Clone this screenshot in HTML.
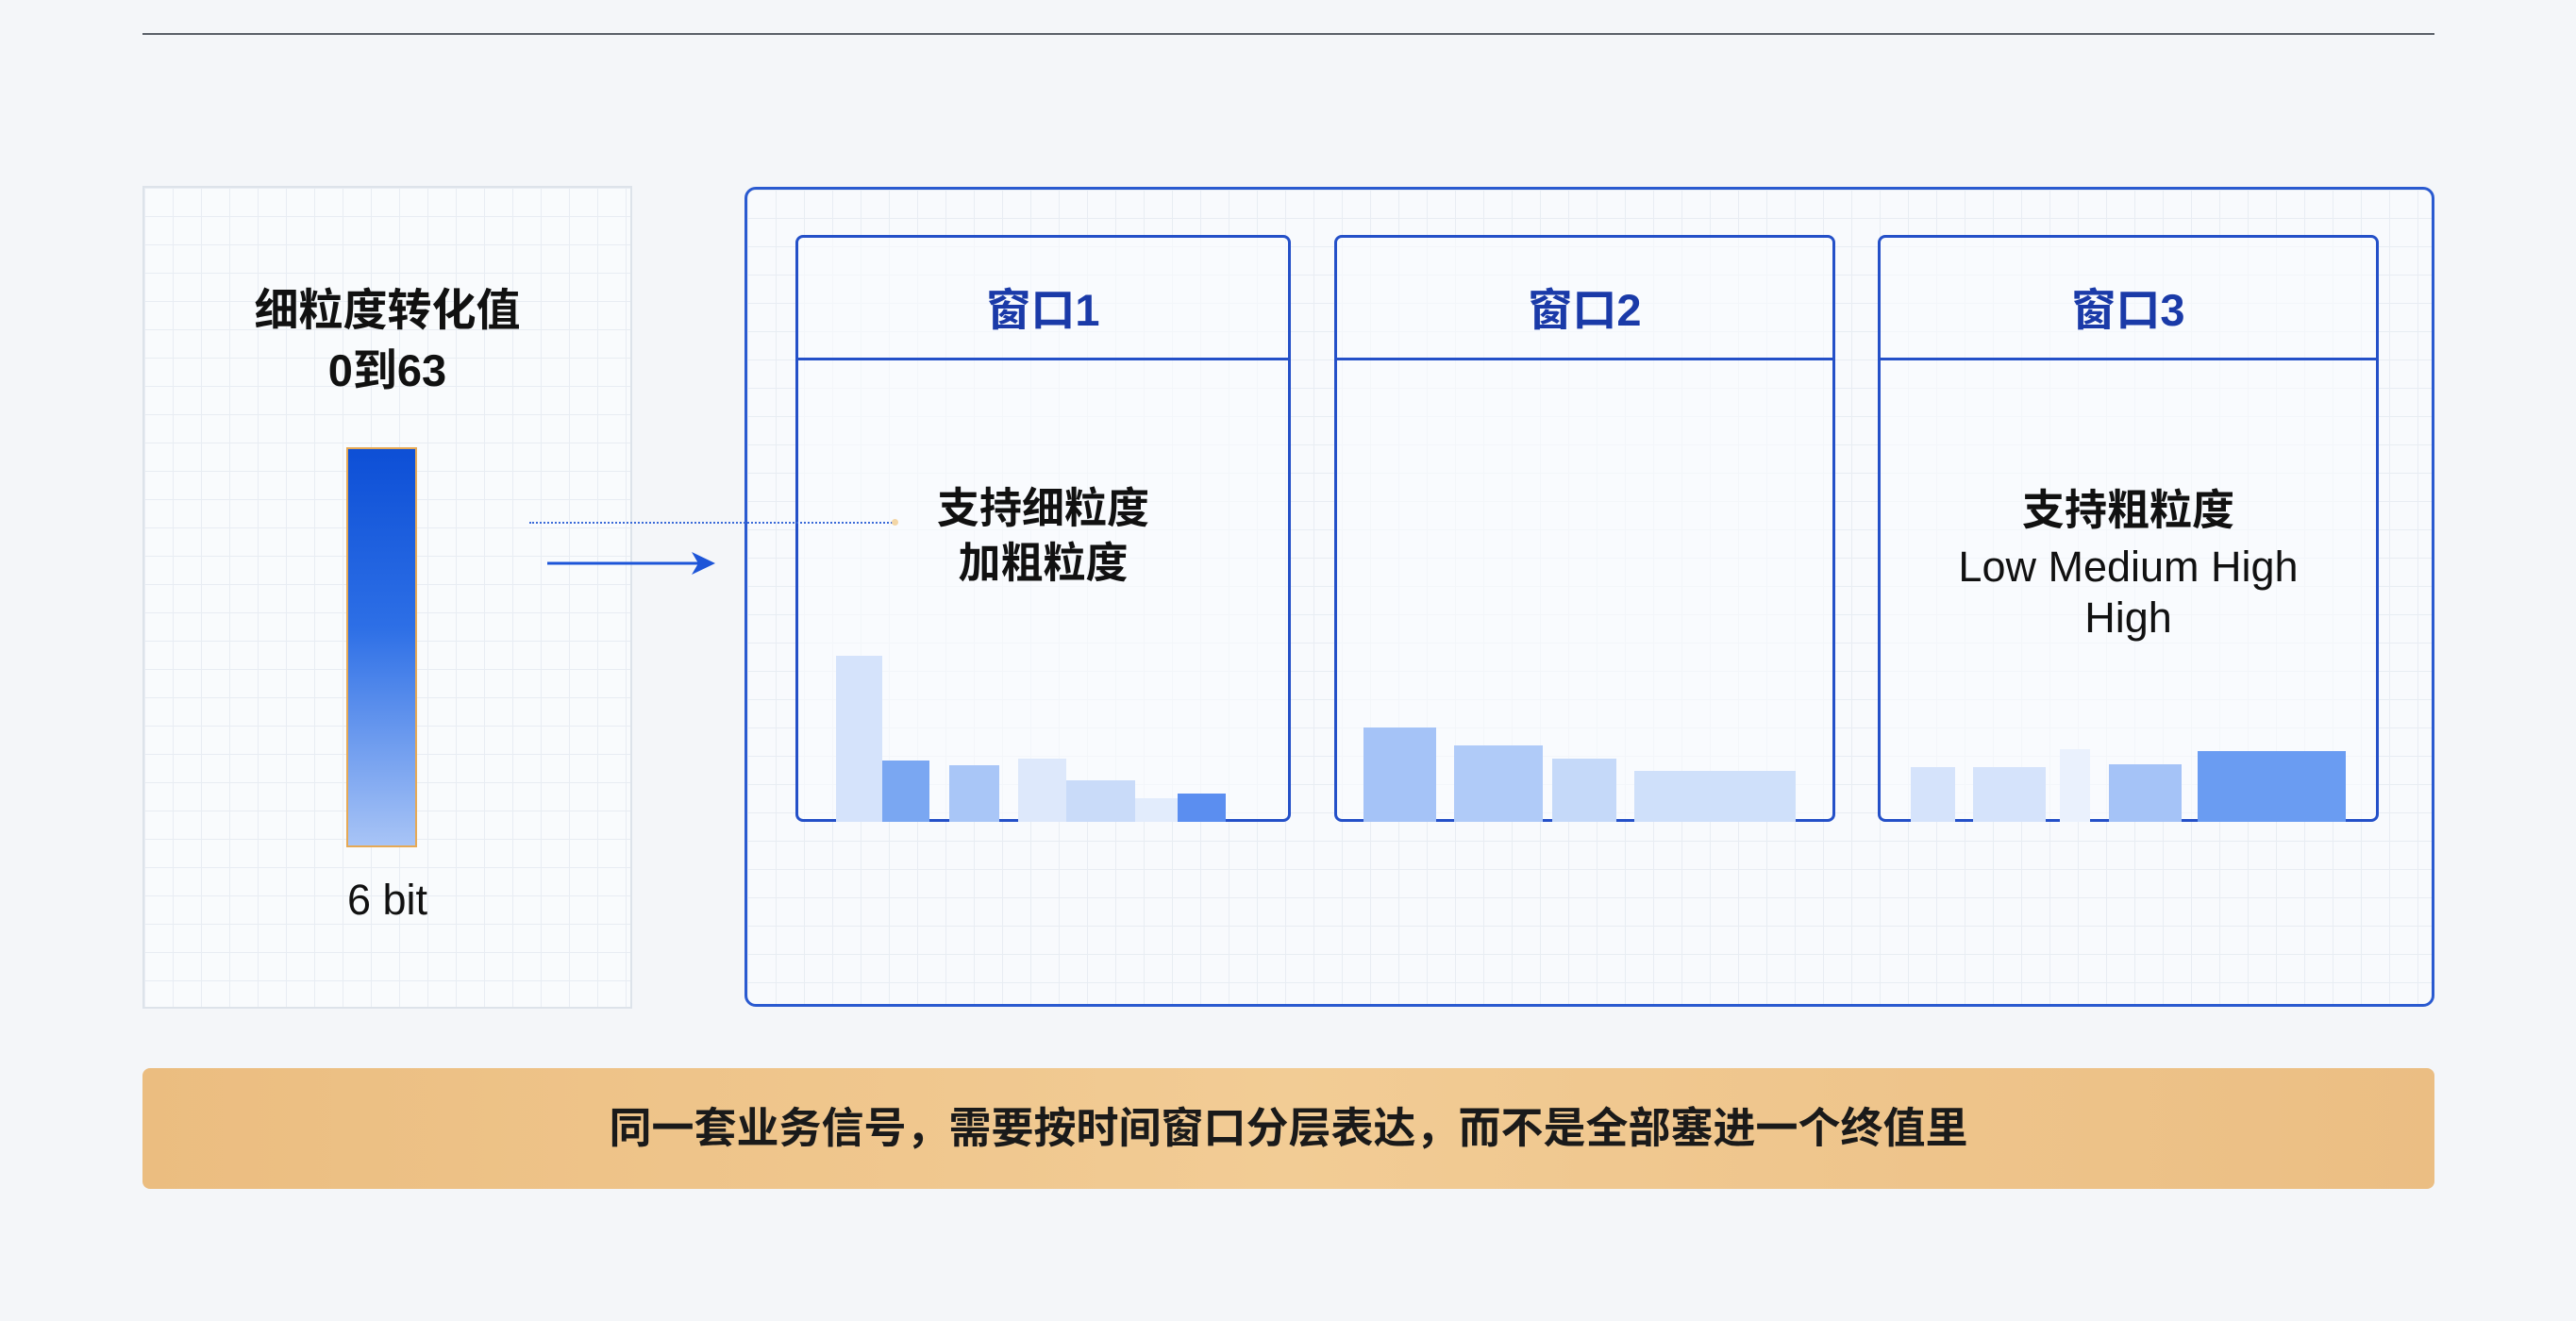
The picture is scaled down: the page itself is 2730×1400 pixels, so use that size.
<!DOCTYPE html>
<html><head><meta charset="utf-8"><style>
*{margin:0;padding:0;box-sizing:border-box}
body{width:2730px;height:1400px;background:#f4f6f9;position:relative;overflow:hidden;font-family:"Liberation Sans","Noto Sans CJK SC",sans-serif}
.a{position:absolute}
.grid{background-color:#f9fbfd;background-image:linear-gradient(#e8edf3 1px,transparent 1px),linear-gradient(90deg,#e8edf3 1px,transparent 1px);background-size:30px 30px}
.t{position:absolute;text-align:center;font-weight:bold;color:#111}
.win{position:absolute;border:3px solid #2450c8;border-radius:8px;background:rgba(250,252,255,.6)}
.win .hd{position:absolute;left:0;right:0;top:0;height:130px;border-bottom:3px solid #2450c8;text-align:center;padding-top:52px;line-height:50px;font-size:47px;font-weight:bold;color:#1a3aa8}
.b{position:absolute}
</style></head><body>
<div class="a" style="left:151px;top:35px;width:2429px;height:2px;background:#5a6068"></div>

<div class="a grid" style="left:151px;top:197px;width:519px;height:872px;border:2px solid #dde3ea"></div>
<div class="t" style="left:151px;top:297px;width:519px;font-size:47px;line-height:64px">细粒度转化值<br>0到63</div>
<div class="a" style="left:367px;top:474px;width:75px;height:424px;border:2px solid #e6a955;background:linear-gradient(#0d4fd6,#2d6fe6 45%,#a8c4f6)"></div>
<div class="a" style="left:151px;top:928px;width:519px;text-align:center;font-size:45px;color:#111">6 bit</div>

<div class="a grid" style="left:789px;top:198px;width:1791px;height:869px;border:3px solid #2a5ad0;border-radius:12px;background-color:#f8fafd"></div>

<div class="win" style="left:843px;top:249px;width:525px;height:622px"><div class="hd">窗口1</div></div>
<div class="win" style="left:1414px;top:249px;width:531px;height:622px"><div class="hd">窗口2</div></div>
<div class="win" style="left:1990px;top:249px;width:531px;height:622px"><div class="hd">窗口3</div></div>

<div class="a" style="left:561px;top:553px;width:388px;border-top:2px dotted #3a6ad8"></div>
<div class="a" style="left:945px;top:550px;width:7px;height:7px;border-radius:50%;background:#f3d6a6"></div>
<svg class="a" style="left:575px;top:580px" width="190" height="36"><line x1="5" y1="17" x2="178" y2="17" stroke="#1d55d8" stroke-width="3"/><path d="M158 5 L183 17 L158 29 L165 17 Z" fill="#1d55d8"/></svg>

<div class="t" style="left:843px;top:510px;width:525px;font-size:45px;line-height:58px">支持细粒度<br>加粗粒度</div>
<div class="t" style="left:1990px;top:512px;width:531px;font-size:45px;line-height:58px">支持粗粒度</div>
<div class="a" style="left:1990px;top:574px;width:531px;text-align:center;font-size:45px;line-height:54px;color:#111">Low Medium High<br>High</div>

<div class="b" style="left:886px;top:695px;width:49px;height:176px;background:#d5e3fb"></div>
<div class="b" style="left:935px;top:806px;width:50px;height:65px;background:#7aa7f2"></div>
<div class="b" style="left:1006px;top:811px;width:53px;height:60px;background:#a9c6f7"></div>
<div class="b" style="left:1079px;top:804px;width:51px;height:67px;background:#dde8fb"></div>
<div class="b" style="left:1130px;top:827px;width:73px;height:44px;background:#c9dbf9"></div>
<div class="b" style="left:1203px;top:846px;width:45px;height:25px;background:#e2ecfc"></div>
<div class="b" style="left:1248px;top:841px;width:51px;height:30px;background:#5b8ef0"></div>

<div class="b" style="left:1445px;top:771px;width:77px;height:100px;background:#a5c3f7"></div>
<div class="b" style="left:1541px;top:790px;width:94px;height:81px;background:#b0cbf8"></div>
<div class="b" style="left:1645px;top:804px;width:68px;height:67px;background:#c5d9f9"></div>
<div class="b" style="left:1732px;top:817px;width:171px;height:54px;background:#cfe0fa"></div>

<div class="b" style="left:2025px;top:813px;width:47px;height:58px;background:#d5e3fb"></div>
<div class="b" style="left:2091px;top:813px;width:77px;height:58px;background:#d5e3fb"></div>
<div class="b" style="left:2183px;top:794px;width:32px;height:77px;background:#eaf1fd"></div>
<div class="b" style="left:2235px;top:810px;width:77px;height:61px;background:#a5c3f7"></div>
<div class="b" style="left:2329px;top:796px;width:157px;height:75px;background:#6a9cf2"></div>

<div class="a" style="left:151px;top:1132px;width:2429px;height:128px;border-radius:8px;background:linear-gradient(90deg,#ebbd80,#f2cc95 50%,#ebbe83);text-align:center;line-height:128px;font-size:45px;font-weight:bold;color:#1a1a1a">同一套业务信号，需要按时间窗口分层表达，而不是全部塞进一个终值里</div>
</body></html>
